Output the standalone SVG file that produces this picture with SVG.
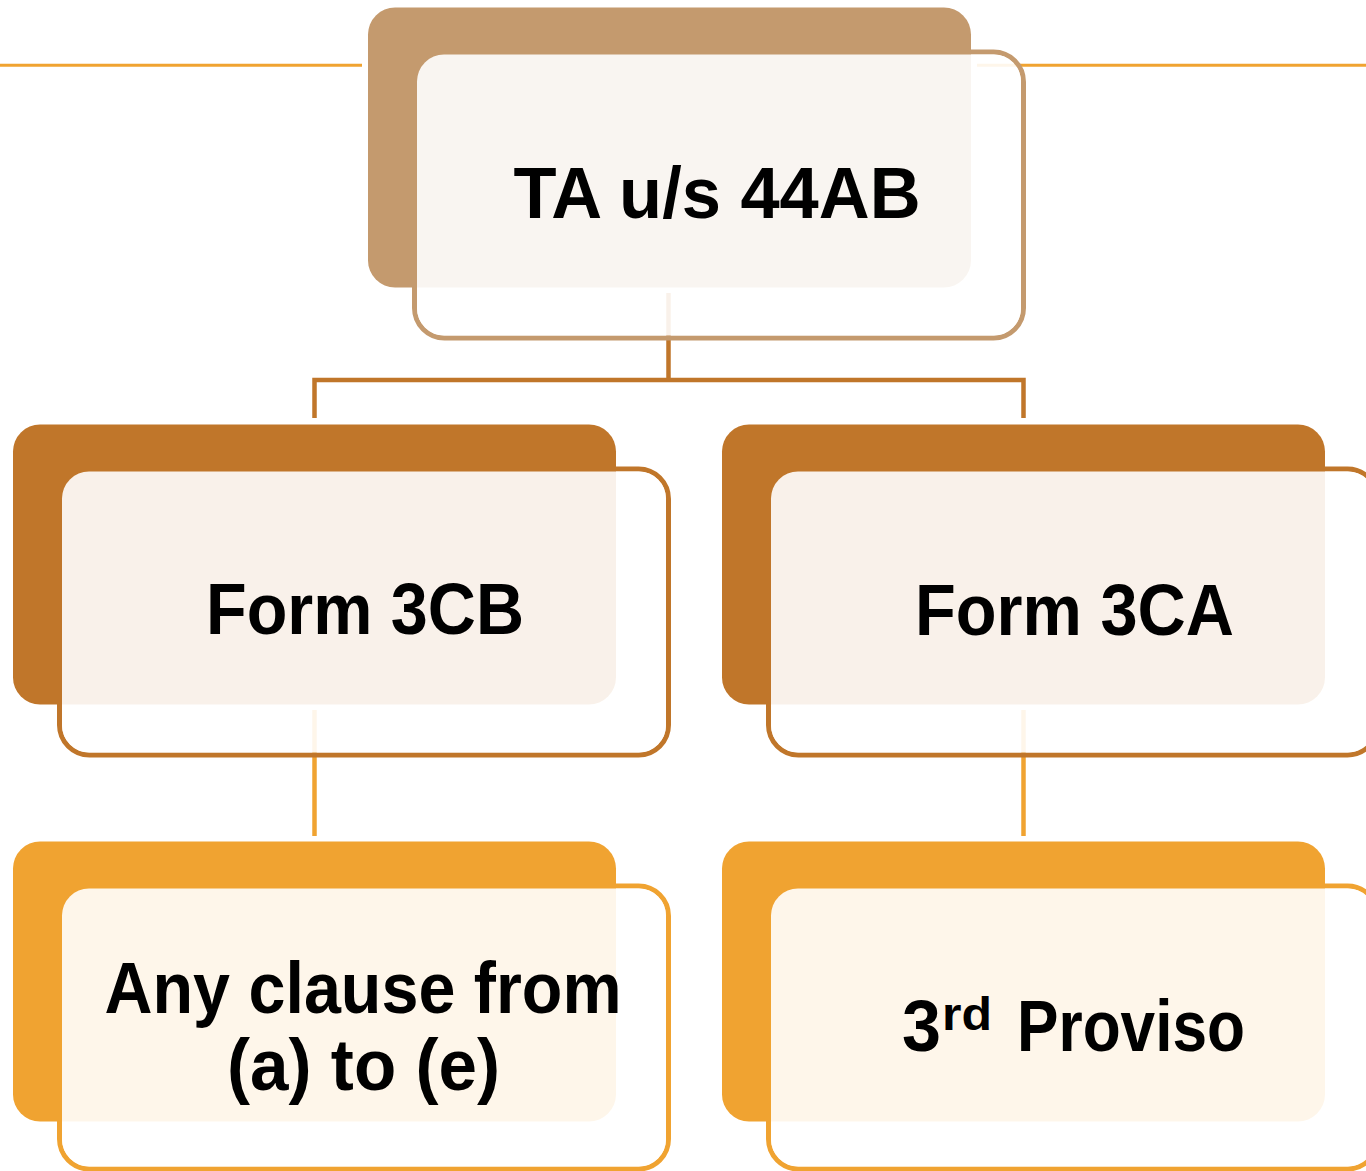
<svg xmlns="http://www.w3.org/2000/svg" width="1366" height="1171" viewBox="0 0 1366 1171">
<style>
.lbl{font-family:"Liberation Sans",Arial,Helvetica,sans-serif;font-weight:bold;font-size:72px;fill:#000}
.mid{text-anchor:middle}
.face{fill:#fff;fill-opacity:0.9;stroke:none}
.c1{stroke:#c49a6e}
.c2{stroke:#c0762a}
.c3{stroke:#f0a331}
.f1{fill:#c49a6e}
.f2{fill:#c0762a}
.f3{fill:#f0a331}
.frame{fill:none;stroke-width:5}
.link{fill:none;stroke-width:4.5;stroke-linecap:butt;stroke-linejoin:miter}
.deco{stroke:#f0a331;stroke-width:3}
</style>
<g id="decor">
<line class="deco" x1="0" y1="65.3" x2="362" y2="65.3"/>
<line class="deco" x1="977" y1="65.3" x2="1366" y2="65.3"/>
</g>
<g id="connectors">
<path class="link c2" d="M668.5 293 V380 M314.5 418 V380 H1023.5 V418"/>
<path class="link c3" d="M314.5 710 V836"/>
<path class="link c3" d="M1023.5 710 V836"/>
</g>
<g id="node-ta">
<rect class="frame c1" x="414.5" y="52" width="609" height="286" rx="30"/>
<rect class="f1" x="368" y="7.5" width="603" height="280" rx="27"/>
<rect class="face" x="417" y="54.5" width="604" height="281" rx="27"/>
<text class="lbl mid" x="717" y="218" textLength="407" lengthAdjust="spacingAndGlyphs">TA u/s 44AB</text>
</g>
<g id="node-3cb">
<rect class="frame c2" x="59.5" y="469" width="609" height="286" rx="30"/>
<rect class="f2" x="13" y="424.5" width="603" height="280" rx="27"/>
<rect class="face" x="62" y="471.5" width="604" height="281" rx="27"/>
<text class="lbl mid" x="365" y="634" textLength="318" lengthAdjust="spacingAndGlyphs">Form 3CB</text>
</g>
<g id="node-3ca">
<rect class="frame c2" x="768.5" y="469" width="609" height="286" rx="30"/>
<rect class="f2" x="722" y="424.5" width="603" height="280" rx="27"/>
<rect class="face" x="771" y="471.5" width="604" height="281" rx="27"/>
<text class="lbl mid" x="1074.5" y="635" textLength="319" lengthAdjust="spacingAndGlyphs">Form 3CA</text>
</g>
<g id="node-clause">
<rect class="frame c3" x="59.5" y="886" width="609" height="283" rx="30"/>
<rect class="f3" x="13" y="841.5" width="603" height="280" rx="27"/>
<rect class="face" x="62" y="888.5" width="604" height="278" rx="27"/>
<text class="lbl mid" x="363" y="1013" textLength="517" lengthAdjust="spacingAndGlyphs">Any clause from</text>
<text class="lbl mid" x="363.5" y="1090" textLength="273" lengthAdjust="spacingAndGlyphs">(a) to (e)</text>
</g>
<g id="node-proviso">
<rect class="frame c3" x="768.5" y="886" width="609" height="283" rx="30"/>
<rect class="f3" x="722" y="841.5" width="603" height="280" rx="27"/>
<rect class="face" x="771" y="888.5" width="604" height="278" rx="27"/>
<text class="lbl" y="1051"><tspan x="902" textLength="39" lengthAdjust="spacingAndGlyphs">3</tspan><tspan x="942" y="1030" style="font-size:46px" textLength="50" lengthAdjust="spacingAndGlyphs">rd</tspan><tspan x="1017" y="1051" textLength="228" lengthAdjust="spacingAndGlyphs">Proviso</tspan></text>
</g>
</svg>
